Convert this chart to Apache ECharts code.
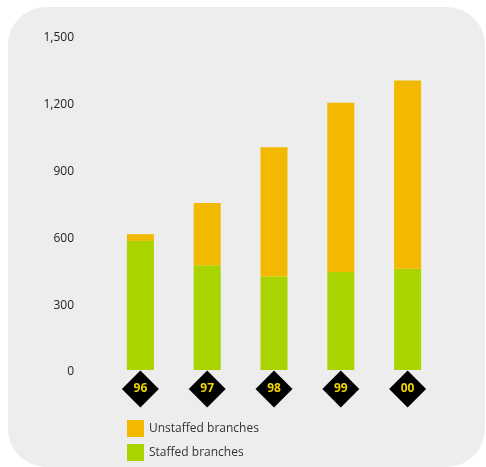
<!DOCTYPE html>
<html>
<head>
<meta charset="utf-8">
<style>
  html, body { margin: 0; padding: 0; background: #ffffff; }
  #chart { width: 486px; height: 467px; }
</style>
<script src="https://cdn.jsdelivr.net/npm/echarts@6/dist/echarts.min.js"></script>
</head>
<body>
<div id="chart"></div>
<script>
// Branch network by year
const years = ['96', '97', '98', '99', '00'];
const staffed = [580, 470, 420, 440, 455];
const unstaffed = [30, 280, 580, 760, 845];
const yTicks = [0, 300, 600, 900, 1200, 1500];
const baseline = years.map(() => 0);

const FONT = '"Open Sans", "Noto Sans", sans-serif';
const chart = echarts.init(document.getElementById('chart'), null, { renderer: 'canvas' });

const legendBase = {
  left: 127,
  itemWidth: 17, itemHeight: 17,
  icon: 'rect',
  padding: 0,
  textStyle: { fontFamily: FONT, fontSize: 12, color: '#333333' }
};

chart.setOption({
  animation: false,
  textStyle: { fontFamily: FONT },
  graphic: [{
    type: 'rect',
    left: 8, top: 7, z: -10,
    shape: { width: 477, height: 460, r: 38 },
    style: { fill: '#ededed' }
  }],
  grid: { left: 107, right: 45, top: 36, bottom: 97 },
  legend: [
    Object.assign({ top: 420, data: ['Unstaffed branches'] }, legendBase),
    Object.assign({ top: 444, data: ['Staffed branches'] }, legendBase)
  ],
  xAxis: {
    type: 'category',
    data: years,
    axisLine: { show: false },
    axisTick: { show: false },
    axisLabel: { show: false }
  },
  yAxis: {
    type: 'value',
    min: yTicks[0],
    max: yTicks[yTicks.length - 1],
    interval: yTicks[1] - yTicks[0],
    axisLine: { show: false },
    axisTick: { show: false },
    splitLine: { show: false },
    axisLabel: {
      margin: 33,
      formatter: v => '{t|' + v.toLocaleString('en-US') + '}',
      rich: {
        t: {
          fontFamily: FONT,
          fontSize: 12,
          color: '#222222',
          padding: [4, 0, 0, 0]
        }
      }
    }
  },
  series: [
    {
      name: 'Staffed branches',
      type: 'bar',
      stack: 'branches',
      barWidth: 27,
      itemStyle: { color: '#aad400' },
      data: staffed
    },
    {
      name: 'Unstaffed branches',
      type: 'bar',
      stack: 'branches',
      barWidth: 27,
      itemStyle: { color: '#f2b900' },
      data: unstaffed
    },
    {
      // diamond year badges under each bar
      name: 'year',
      type: 'scatter',
      clip: false,
      silent: true,
      symbol: 'diamond',
      symbolSize: [37, 37],
      symbolOffset: [0, 19],
      itemStyle: { color: '#000000', opacity: 1 },
      label: {
        show: true,
        position: 'inside',
        formatter: p => years[p.dataIndex],
        color: '#f0d400',
        fontFamily: FONT,
        fontWeight: 'bold',
        fontSize: 12
      },
      z: 5,
      data: baseline
    }
  ]
});
</script>
</body>
</html>
